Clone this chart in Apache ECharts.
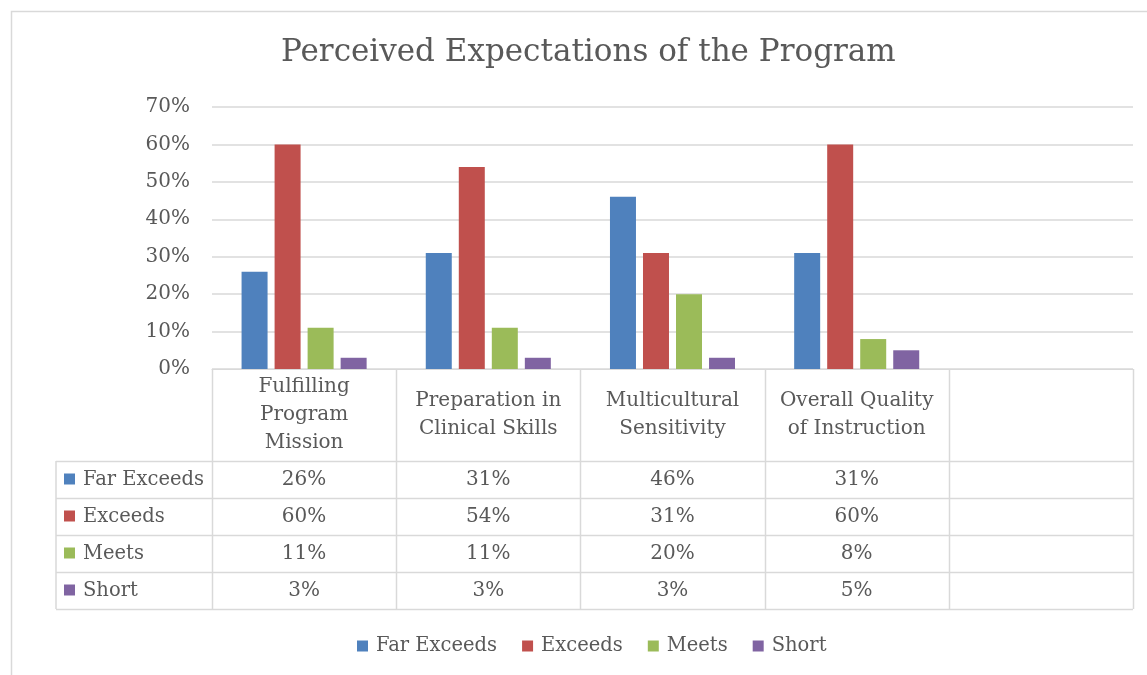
<!DOCTYPE html>
<html>
<head>
<meta charset="utf-8">
<script src="https://cdn.jsdelivr.net/npm/echarts@6/dist/echarts.min.js"></script>
<style>
  html, body { margin: 0; padding: 0; background: #fff; }
  #chart { width: 1147px; height: 675px; }
</style>
</head>
<body>
<div id="chart"></div>
<script>
const title = 'Perceived Expectations of the Program';
const categories = ['Fulfilling\nProgram\nMission', 'Preparation in\nClinical Skills', 'Multicultural\nSensitivity', 'Overall Quality\nof Instruction', ''];
const seriesNames = ['Far Exceeds', 'Exceeds', 'Meets', 'Short'];
const farExceeds = [26, 31, 46, 31, null];
const exceeds = [60, 54, 31, 60, null];
const meets = [11, 11, 20, 8, null];
const shortVals = [3, 3, 3, 5, null];
const yTicks = [0, 10, 20, 30, 40, 50, 60, 70];

const seriesData = [farExceeds, exceeds, meets, shortVals];
const colors = ['#4F81BD', '#C0504D', '#9BBB59', '#8064A2'];
const FONT = 'DejaVu Serif';
const TEXT = '#595959';
const LINE = '#D9D9D9';
const FS = 19.5;

const chart = echarts.init(document.getElementById('chart'), null, { renderer: 'canvas' });

const option = {
  animation: false,
  backgroundColor: '#fff',
  color: colors,
  textStyle: { fontFamily: FONT, color: TEXT },
  title: {
    text: title,
    left: 281,
    top: 37,
    padding: 0,
    textStyle: { fontFamily: FONT, fontSize: 31, fontWeight: 'normal', color: TEXT }
  },
  legend: {
    data: seriesNames,
    bottom: 14,
    left: 352,
    itemWidth: 11,
    itemHeight: 11,
    itemGap: 25,
    icon: 'rect',
    textStyle: { fontFamily: FONT, fontSize: FS, color: TEXT, padding: [0, 0, 0, 3] }
  },
  grid: { left: 212, right: 14, top: 107, bottom: 306, containLabel: false },
  xAxis: {
    type: 'category',
    data: categories,
    axisLine: { show: true, lineStyle: { color: LINE, width: 1 } },
    axisTick: { show: false },
    axisLabel: { show: false },
    splitLine: { show: false }
  },
  yAxis: {
    type: 'value',
    min: yTicks[0],
    max: yTicks[yTicks.length - 1],
    interval: 10,
    axisLine: { show: false },
    axisTick: { show: false },
    axisLabel: { formatter: '{value}%', fontFamily: FONT, fontSize: 20, color: TEXT, margin: 22 },
    splitLine: { lineStyle: { color: LINE, width: 1.5 } }
  },
  series: seriesNames.map((n, i) => ({
    name: n,
    type: 'bar',
    data: seriesData[i],
    barWidth: 26,
    barGap: '27%',
    itemStyle: { color: colors[i] }
  }))
};
chart.setOption(option);

// Data table drawn below the plot, aligned to the category axis
const c0 = chart.convertToPixel({ xAxisIndex: 0 }, 0);
const c1 = chart.convertToPixel({ xAxisIndex: 0 }, 1);
const band = c1 - c0;
const tableTop = chart.convertToPixel({ yAxisIndex: 0 }, 0);
const headerH = 92;
const rowH = 37;
const leftX = 56;
const n = categories.length;
const xStart = c0 - band / 2;
const xEnd = xStart + band * n;
const g = [];
const ls = { stroke: LINE, lineWidth: 1.5 };
for (let i = 0; i <= n; i++) {
  const x = Math.round(xStart + band * i) + 0.5;
  g.push({ type: 'line', shape: { x1: x, y1: tableTop, x2: x, y2: tableTop + headerH + rowH * 4 }, style: ls, silent: true });
}
g.push({ type: 'line', shape: { x1: leftX, y1: tableTop + headerH, x2: leftX, y2: tableTop + headerH + rowH * 4 }, style: ls, silent: true });
for (let r = 0; r <= 4; r++) {
  const y = Math.round(tableTop + headerH + rowH * r) + 0.5;
  g.push({ type: 'line', shape: { x1: leftX, y1: y, x2: xEnd, y2: y }, style: ls, silent: true });
}
categories.forEach((c, i) => {
  g.push({ type: 'text', x: c0 + band * i, y: tableTop + headerH / 2, silent: true,
    style: { text: c, fontFamily: FONT, fontSize: 20, fill: TEXT, align: 'center', verticalAlign: 'middle', lineHeight: 28 } });
});
seriesNames.forEach((name, r) => {
  const cy = tableTop + headerH + rowH * r + rowH / 2;
  g.push({ type: 'rect', shape: { x: 64, y: cy - 6, width: 11, height: 11 }, style: { fill: colors[r] }, silent: true });
  g.push({ type: 'text', x: 83, y: cy, silent: true,
    style: { text: name, fontFamily: FONT, fontSize: FS, fill: TEXT, align: 'left', verticalAlign: 'middle' } });
  seriesData[r].forEach((v, i) => {
    if (v === null || v === undefined) return;
    g.push({ type: 'text', x: c0 + band * i, y: cy, silent: true,
      style: { text: v + '%', fontFamily: FONT, fontSize: 20, fill: TEXT, align: 'center', verticalAlign: 'middle' } });
  });
});
g.push({ type: 'rect', shape: { x: 11.5, y: 11.5, width: 1145, height: 680 }, style: { fill: 'none', stroke: LINE, lineWidth: 1.5 }, silent: true, z: -1 });

chart.setOption({ graphic: g });
</script>
</body>
</html>
